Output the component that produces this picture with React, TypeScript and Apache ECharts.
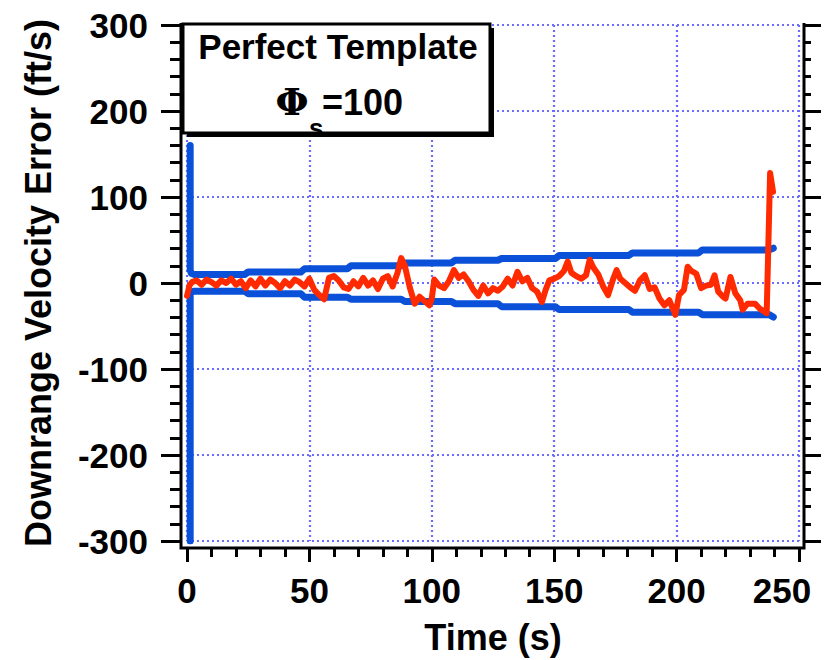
import React, { useEffect, useRef } from "react";
import * as echarts from "echarts";

// ---- data ----
const redTime = [
  0, 1, 2, 4, 6, 8, 10, 12, 14, 16, 18, 20, 22, 24, 26, 28, 30, 32, 34, 36, 38, 40, 42, 44, 46, 48, 50,
  52, 54, 56, 58, 60, 62, 64, 66, 68, 70, 72, 74, 76, 78, 80, 82, 84, 86, 87.5, 89, 91, 93, 95, 97, 99,
  100, 101, 103, 105, 107, 109, 111, 113, 115, 117, 119, 121, 123, 125, 127, 129, 131, 133, 135, 137,
  139, 141, 143, 145, 146.5, 148, 150, 152, 154, 155.5, 157, 159, 161, 163, 164.5, 166, 168, 170, 172,
  174, 175.5, 177, 179, 181, 183, 185, 187, 189, 191, 193, 195, 197, 199.5, 201, 203, 204.5, 206, 208,
  210, 212, 214, 215.5, 217, 219, 220, 222, 224, 226, 227, 229, 232, 234, 236.8, 238.2, 239.4,
];
const redError = [
  -15, -3, 1, 3, -2, 4, 1, -3, 3, 0, 5, -2, 2, -6, 3, -4, 5, -3, 4, 0, -6, 2, -3, 4, 1, -4, 5,
  -8, -14, -19, 6, 8, 3, -5, -7, 2, -4, 6, -3, 3, -7, 5, 8, -4, 12, 29, 20, -5, -24, -16, -21, -26,
  -18, 4, -3, -6, 2, 15, 6, 10, 2, -8, -15, -3, -12, -6, -9, -4, 5, -3, 13, 2,
  6, -6, -10, -22, -8, 3, 5, 8, 14, 25, 12, 8, 5, 9, 27, 18, 10, -4, -14,
  4, 15, 5, 0, -5, -9, 3, 9, -7, -5, -18, -26, -20, -37, -14, -8, 19, 14, 11,
  -6, -3, -2, 9, -10, -16, -18, 7, -12, -20, -31, -24, -24, -30, -35, 128, 106,
];
const boundTime = [
  1.3, 1.3, 1.8, 3, 23.5, 25, 46.5, 48, 65.5, 67, 87.5, 89, 108, 109.5, 127, 128.5, 150.5, 152,
  180.5, 182, 209, 210.5, 237.8, 239.5,
];
const upperBound = [
  160, 15, 11, 9.9, 9.9, 12.8, 12.8, 16.5, 16.5, 20, 20, 23.4, 23.4, 26.5, 26.5, 28.5, 28.5, 32,
  32, 35, 35, 38.5, 38.5, 40.5,
];
const lowerBound = [
  -300, -13, -10.5, -9.5, -9.5, -12.5, -12.5, -16.5, -16.5, -19, -19, -21.5, -21.5, -24, -24, -27.5,
  -27.5, -30.8, -30.8, -34, -34, -36.8, -36.8, -39.5,
];
const xTitle = "Time (s)";
const yTitle = "Downrange Velocity Error (ft/s)";
const boxTitle = "Perfect Template";
const boxSymbol = "Φ";
const boxSub = "s";
const boxValue = "=100";

const FONT = "'Liberation Sans', Arial, Helvetica, sans-serif";
const RED = "#ff2a00";
const BLUE = "#0a50d8";
const GRID = "#6b6bff";

export default function App() {
  const ref = useRef<HTMLDivElement>(null);
  useEffect(() => {
    if (!ref.current) return;
    const chart = echarts.init(ref.current, undefined, { renderer: "svg" });
    const red = redTime.map((t, i) => [t, redError[i]]);
    const up = boundTime.map((t, i) => [t, upperBound[i]]);
    const lo = boundTime.map((t, i) => [t, lowerBound[i]]);
    const labelStyle = { fontFamily: FONT, fontWeight: "bold" as const, fontSize: 35, color: "#000" };
    const splitLine = { show: true, lineStyle: { color: GRID, width: 2.2, type: [2, 3] } };
    chart.setOption({
      animation: false,
      backgroundColor: "#fff",
      grid: { left: 187, right: 33, top: 25, bottom: 118, containLabel: false },
      xAxis: {
        type: "value",
        min: 0,
        max: 250,
        interval: 50,
        offset: 6,
        axisLine: { show: false, onZero: false },
        axisTick: { show: true, length: 15, lineStyle: { color: "#000", width: 3 } },
        minorTick: { show: true, splitNumber: 5, length: 10, lineStyle: { color: "#000", width: 3 } },
        splitLine,
        axisLabel: {
          ...labelStyle,
          margin: 26,
          formatter: (v: number) => (v === 250 ? "{last|" + v + "}" : String(v)),
          rich: { last: { ...labelStyle, padding: [0, 34, 0, 0] } },
        },
        name: xTitle,
        nameLocation: "middle",
        nameGap: 72,
        nameTextStyle: { ...labelStyle, fontSize: 36 },
      },
      yAxis: [
        {
          type: "value",
          min: -300,
          max: 300,
          interval: 100,
          position: "left",
          offset: 6,
          axisLine: { show: false, onZero: false },
          axisTick: { show: true, length: 20, lineStyle: { color: "#000", width: 3 } },
          minorTick: { show: true, splitNumber: 5, length: 11, lineStyle: { color: "#000", width: 3 } },
          splitLine,
          axisLabel: { ...labelStyle, margin: 33 },
          name: yTitle,
          nameLocation: "middle",
          nameRotate: 90,
          nameGap: 125,
          nameTextStyle: { ...labelStyle, fontSize: 36 },
        },
        {
          type: "value",
          min: -300,
          max: 300,
          interval: 100,
          position: "right",
          offset: 5,
          axisLine: { show: false, onZero: false },
          axisTick: { show: true, length: 17, lineStyle: { color: "#000", width: 3 } },
          minorTick: { show: true, splitNumber: 5, length: 7, lineStyle: { color: "#000", width: 3 } },
          splitLine: { show: false },
          axisLabel: { show: false },
        },
      ],
      series: [
        {
          type: "line",
          data: up,
          showSymbol: false,
          lineStyle: { color: BLUE, width: 7, cap: "round", join: "round" },
          z: 2,
        },
        {
          type: "line",
          data: lo,
          showSymbol: false,
          lineStyle: { color: BLUE, width: 7, cap: "round", join: "round" },
          z: 2,
        },
        {
          type: "line",
          data: red,
          showSymbol: false,
          lineStyle: { color: RED, width: 6, cap: "round", join: "round" },
          z: 3,
        },
      ],
      graphic: [
        // axis frame
        {
          type: "polyline",
          shape: { points: [[181, 23], [181, 548], [804, 548], [804, 23]] },
          style: { stroke: "#000", lineWidth: 3, fill: null },
          z: 10,
        },
        // annotation box with shadow
        { type: "rect", shape: { x: 187, y: 28, width: 307, height: 109 }, style: { fill: "#000" }, z: 20 },
        {
          type: "rect",
          shape: { x: 183, y: 24, width: 307, height: 109 },
          style: { fill: "#fff", stroke: "#000", lineWidth: 3 },
          z: 21,
        },
        {
          type: "text",
          x: 338,
          y: 46,
          style: { text: boxTitle, font: `bold 35px ${FONT}`, fill: "#000", align: "center", verticalAlign: "middle" },
          z: 22,
        },
        {
          type: "text",
          x: 292,
          y: 101,
          style: { text: boxSymbol, font: `bold 38px 'DejaVu Serif', serif`, fill: "#000", align: "center", verticalAlign: "middle" },
          z: 22,
        },
        {
          type: "text",
          x: 309,
          y: 128,
          style: { text: boxSub, font: `bold 26px ${FONT}`, fill: "#000", align: "left", verticalAlign: "middle" },
          z: 22,
        },
        {
          type: "text",
          x: 322,
          y: 102,
          style: { text: boxValue, font: `bold 36px ${FONT}`, fill: "#000", align: "left", verticalAlign: "middle" },
          z: 22,
        },
      ],
    });
    return () => chart.dispose();
  }, []);
  return (
    <div
      ref={ref}
      style={{ position: "fixed", left: 0, top: 0, width: 832, height: 660, background: "#fff" }}
    />
  );
}
